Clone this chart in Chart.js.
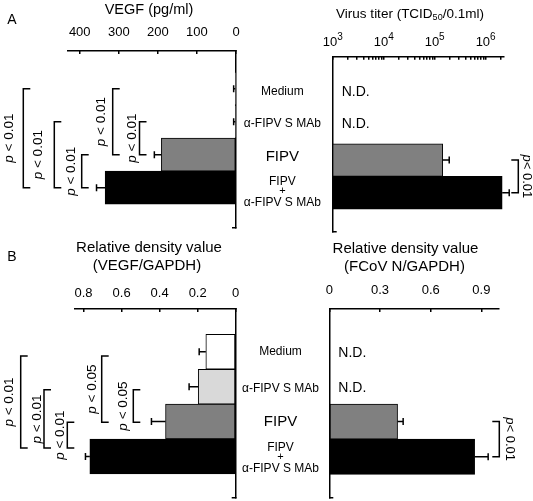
<!DOCTYPE html>
<html>
<head>
<meta charset="utf-8">
<script src="https://cdn.jsdelivr.net/npm/chart.js@4.4.1/dist/chart.umd.min.js"></script>
<style>
html, body { margin: 0; padding: 0; background: #fff; }
#wrap { position: relative; width: 533px; height: 501px; overflow: hidden; background: #fff; }
#wrap canvas { position: absolute; left: 0; top: 0; }
</style>
</head>
<body>
<div id="wrap">
  <canvas id="cAL" width="533" height="501"></canvas>
  <canvas id="cAR" width="533" height="501"></canvas>
  <canvas id="cBL" width="533" height="501"></canvas>
  <canvas id="cBR" width="533" height="501"></canvas>
</div>
<script>
// ---------------- data ----------------
const categories = ['Medium', 'α-FIPV S MAb', 'FIPV', 'FIPV + α-FIPV S MAb'];
const barColors = ['#ffffff', '#d9d9d9', '#808080', '#000000'];

// Panel A left: VEGF (pg/ml)
const vegfValues = [2, 2, 191, 335];
const vegfErrors = [4, 4, 18, 22];
const vegfTicks = [0, 100, 200, 300, 400];

// Panel A right: virus titer (TCID50/0.1ml); null = N.D.
const titerValues = [null, null, 1.44e5, 2.11e6];
const titerErrors = [null, null, 0.49e5, 0.79e6];
const titerTickExponents = [3, 4, 5, 6];

// Panel B left: relative density VEGF/GAPDH
const vegfDensityValues = [0.157, 0.197, 0.369, 0.767];
const vegfDensityErrors = [0.035, 0.048, 0.074, 0.023];
const vegfDensityTicks = [0, 0.2, 0.4, 0.6, 0.8];

// Panel B right: relative density FCoV N/GAPDH; null = N.D.
const fcovDensityValues = [null, null, 0.404, 0.86];
const fcovDensityErrors = [null, null, 0.033, 0.08];
const fcovDensityTicks = [0, 0.3, 0.6, 0.9];

// significance comparisons: [from category, to category, label]
const vegfComparisons = [[0, 3, 'p < 0.01'], [1, 3, 'p < 0.01'], [2, 3, 'p < 0.01'], [0, 2, 'p < 0.01'], [1, 2, 'p < 0.01']];
const titerComparisons = [[2, 3, 'p< 0.01']];
const vegfDensityComparisons = [[0, 3, 'p < 0.01'], [1, 3, 'p < 0.01'], [2, 3, 'p < 0.01'], [0, 2, 'p < 0.05'], [1, 2, 'p < 0.05']];
const fcovDensityComparisons = [[2, 3, 'p< 0.01']];

// ---------------- helpers ----------------
const FONT = '"Liberation Sans", Arial, Helvetica, sans-serif';

function text(ctx, str, x, y, size, align, style) {
  ctx.save();
  ctx.font = (style ? style + ' ' : '') + size + 'px ' + FONT;
  ctx.fillStyle = '#000';
  ctx.textAlign = align || 'center';
  ctx.textBaseline = 'middle';
  ctx.fillText(str, x, y);
  ctx.restore();
}

function drawPLabel(ctx, x, y, str, rot, size) {
  ctx.save();
  ctx.translate(x, y);
  ctx.rotate(rot);
  const pFont = 'italic ' + size + 'px ' + FONT;
  const rFont = size + 'px ' + FONT;
  const rest = str.slice(1);
  ctx.font = pFont; const wp = ctx.measureText('p').width;
  ctx.font = rFont; const wr = ctx.measureText(rest).width;
  const start = -(wp + wr) / 2;
  ctx.fillStyle = '#000';
  ctx.textBaseline = 'middle';
  ctx.textAlign = 'left';
  ctx.font = pFont; ctx.fillText('p', start, 0);
  ctx.font = rFont; ctx.fillText(rest, start + wp, 0);
  ctx.restore();
}

function drawBrackets(chart, comps, layout) {
  const ctx = chart.ctx, ys = chart.scales.y;
  ctx.save();
  ctx.strokeStyle = '#000';
  ctx.lineWidth = 1.5;
  comps.forEach((c, k) => {
    const L = layout[k];
    const y1 = ys.getPixelForValue(c[0] + (L.s1 || 0));
    const y2 = ys.getPixelForValue(c[1] + (L.s2 || 0));
    const d = L.dir;
    ctx.beginPath();
    ctx.moveTo(L.x + d * 7, y1);
    ctx.lineTo(L.x, y1);
    ctx.lineTo(L.x, y2);
    ctx.lineTo(L.x + d * 7, y2);
    ctx.stroke();
    drawPLabel(ctx, L.lx, (y1 + y2) / 2 + (L.dy || 0), c[2], d > 0 ? -Math.PI / 2 : Math.PI / 2, L.size);
  });
  ctx.restore();
}

function drawErrorBars(chart, values, errors) {
  const ctx = chart.ctx, xs = chart.scales.x, ys = chart.scales.y;
  ctx.save();
  ctx.strokeStyle = '#000';
  ctx.lineWidth = 1.5;
  values.forEach((v, i) => {
    if (v === null || errors[i] === null) return;
    const x0 = xs.getPixelForValue(v);
    const x1 = xs.getPixelForValue(v + errors[i]);
    const y = ys.getPixelForValue(i);
    ctx.beginPath();
    ctx.moveTo(x0, y); ctx.lineTo(x1, y);
    ctx.moveTo(x1, y - 3.5); ctx.lineTo(x1, y + 3.5);
    ctx.stroke();
  });
  ctx.restore();
}

function drawND(chart, values, dy) {
  const ys = chart.scales.y;
  values.forEach((v, i) => {
    if (v === null) text(chart.ctx, 'N.D.', chart.chartArea.left + 9, ys.getPixelForValue(i) + dy, 14, 'left');
  });
}

function drawCategoryLabels(chart, leftChart, dyFix) {
  const ctx = chart.ctx, ys = chart.scales.y, lys = leftChart.scales.y;
  const x = (leftChart.chartArea.right + chart.chartArea.left) / 2 - 2;
  categories.forEach((c, i) => {
    const y = (ys.getPixelForValue(i) + lys.getPixelForValue(i)) / 2 + (dyFix[i] || 0);
    if (c.includes(' + ')) {
      const parts = c.split(' + ');
      text(ctx, parts[0], x, y - 9, 12);
      text(ctx, '+', x, y + 0.5, 11);
      text(ctx, parts[1], x, y + 12, 12);
    } else if (c === 'FIPV') {
      text(ctx, c, x, y, 15);
    } else {
      text(ctx, c, x, y, 12);
    }
  });
}

function yAxis(min, max, pos) {
  return {
    type: 'linear', reverse: true, min: min, max: max, position: pos, offset: false,
    afterBuildTicks: s => { s.ticks = [0, 1, 2, 3, max].map(v => ({ value: v })); },
    afterFit: s => { s.width = 0; },
    ticks: { display: false },
    grid: {
      offset: false, drawOnChartArea: false, drawTicks: true, tickLength: -4, lineWidth: 1.5,
      color: c => (c.tick && c.tick.value === max) ? '#000' : 'rgba(0,0,0,0)'
    },
    border: { display: true, color: '#000', width: 1.5 }
  };
}

function xAxis(o) {
  return {
    type: o.type || 'linear', position: 'top', min: o.min, max: o.max, reverse: !!o.reverse, offset: false,
    afterBuildTicks: s => { s.ticks = o.ticks.map(v => ({ value: v })); },
    afterFit: s => { s.height = 40; },
    ticks: {
      display: o.labels !== false, autoSkip: false, maxRotation: 0, minRotation: 0,
      padding: o.pad || 12, color: '#000', font: { family: FONT, size: 13 }
    },
    grid: { offset: false, drawOnChartArea: false, drawTicks: true, tickLength: -3, lineWidth: 1.5, color: '#000' },
    border: { display: true, color: '#000', width: 1.5 }
  };
}

function makeChart(id, values, xScale, yScale, padding, drawFn, errors) {
  return new Chart(document.getElementById(id), {
    type: 'bar',
    data: {
      datasets: [{
        data: values.map((v, i) => ({ x: v, y: i })),
        backgroundColor: barColors,
        borderColor: '#000',
        borderWidth: 1,
        borderSkipped: false,
        barPercentage: 1,
        categoryPercentage: 1
      }]
    },
    options: {
      indexAxis: 'y',
      responsive: false,
      animation: false,
      devicePixelRatio: 1,
      layout: { padding: padding },
      plugins: { legend: { display: false }, tooltip: { enabled: false } },
      scales: { x: xScale, y: yScale }
    },
    plugins: [{
      id: 'extras_' + id,
      afterDatasetsDraw: chart => drawErrorBars(chart, values, errors),
      afterDraw: chart => drawFn(chart)
    }]
  });
}

// ---------------- Panel A left ----------------
const chartAL = makeChart('cAL', vegfValues,
  xAxis({ min: 0, max: 430, reverse: true, ticks: vegfTicks, pad: 13.7 }),
  yAxis(-1.14, 4.22, 'right'),
  { left: 68, right: 297, top: 11, bottom: 273 },
  chart => {
    const ctx = chart.ctx;
    text(ctx, 'A', 12, 20, 14);
    text(ctx, 'VEGF (pg/ml)', 149, 10, 14.5);
    drawBrackets(chart, vegfComparisons, [
      { x: 23.3, lx: 9, dir: 1, size: 13.5 },
      { x: 54.3, lx: 38, dir: 1, size: 13.5 },
      { x: 81.7, lx: 71, dir: 1, size: 13.5 },
      { x: 112.7, lx: 101, dir: 1, size: 13.5 },
      { x: 139.5, lx: 132, dir: 1, size: 13.5 }
    ]);
  }, vegfErrors);

// ---------------- Panel A right ----------------
const titerTicks = [];
titerTickExponents.slice(0, -1).forEach(e => { for (let m = 1; m <= 9; m++) titerTicks.push(m * Math.pow(10, e)); });
titerTicks.push(Math.pow(10, titerTickExponents[titerTickExponents.length - 1]), 2e6);

const chartAR = makeChart('cAR', titerValues,
  xAxis({ type: 'logarithmic', min: 1000, max: 2.29e6, ticks: titerTicks, labels: false }),
  yAxis(-1.16, 4.19, 'left'),
  { left: 332.7, right: 29, top: 16.7, bottom: 269.3 },
  chart => {
    const ctx = chart.ctx, xs = chart.scales.x;
    ctx.save();
    const f = '13.5px ' + FONT, fs = '9px ' + FONT;
    const a = 'Virus titer (TCID', sub = '50', b = '/0.1ml)';
    ctx.font = f; const wa = ctx.measureText(a).width, wb = ctx.measureText(b).width;
    ctx.font = fs; const ws = ctx.measureText(sub).width;
    const x0 = 410 - (wa + ws + wb) / 2;
    ctx.fillStyle = '#000'; ctx.textBaseline = 'middle'; ctx.textAlign = 'left';
    ctx.font = f; ctx.fillText(a, x0, 14);
    ctx.font = fs; ctx.fillText(sub, x0 + wa, 18);
    ctx.font = f; ctx.fillText(b, x0 + wa + ws, 14);
    titerTickExponents.forEach(e => {
      const px = xs.getPixelForValue(Math.pow(10, e));
      ctx.font = '13px ' + FONT; const w10 = ctx.measureText('10').width;
      ctx.font = '10px ' + FONT; const we = ctx.measureText(String(e)).width;
      const sx = px - (w10 + we) / 2;
      ctx.font = '13px ' + FONT; ctx.fillText('10', sx, 42);
      ctx.font = '10px ' + FONT; ctx.fillText(String(e), sx + w10, 37);
    });
    ctx.restore();
    drawND(chart, titerValues, -3);
    drawBrackets(chart, titerComparisons, [{ x: 518.3, lx: 527, dir: -1, size: 13 }]);
    drawCategoryLabels(chart, chartAL, [0, -1, -1, 0]);
  }, titerErrors);

// ---------------- Panel B left ----------------
const chartBL = makeChart('cBL', vegfDensityValues,
  xAxis({ min: 0, max: 0.845, reverse: true, ticks: vegfDensityTicks, pad: 11.2 }),
  yAxis(-1.226, 4.19, 'right'),
  { left: 75, right: 297.3, top: 269, bottom: 3 },
  chart => {
    const ctx = chart.ctx;
    text(ctx, 'B', 12, 257, 14);
    text(ctx, 'Relative density value', 149, 248, 15);
    text(ctx, '(VEGF/GAPDH)', 147, 266, 15);
    drawBrackets(chart, vegfDensityComparisons, [
      { x: 20.7, lx: 9, dir: 1, size: 13.5, s1: 0.12, s2: -0.24 },
      { x: 44, lx: 37, dir: 1, size: 13.5, s1: 0.09, s2: -0.24 },
      { x: 67.3, lx: 60, dir: 1, size: 13.5, s1: 0.02, s2: -0.24 },
      { x: 101.7, lx: 92, dir: 1, size: 13.5, s1: 0.12, s2: 0.02 },
      { x: 133.3, lx: 123, dir: 1, size: 13.5, s1: 0.09, s2: 0.02 }
    ]);
  }, vegfDensityErrors);

// ---------------- Panel B right ----------------
const chartBR = makeChart('cBR', fcovDensityValues,
  xAxis({ min: 0, max: 1.0, ticks: fcovDensityTicks, pad: 14.2 }),
  yAxis(-1.196, 4.17, 'left'),
  { left: 329.3, right: 34.7, top: 269, bottom: 3 },
  chart => {
    const ctx = chart.ctx;
    text(ctx, 'Relative density value', 405.5, 249, 15);
    text(ctx, '(FCoV N/GAPDH)', 404.5, 267, 15);
    drawND(chart, fcovDensityValues, 2);
    drawBrackets(chart, fcovDensityComparisons, [{ x: 499.3, lx: 510, dir: -1, size: 13 }]);
    drawCategoryLabels(chart, chartBL, [0, 2, 0, 0]);
  }, fcovDensityErrors);
</script>
</body>
</html>
